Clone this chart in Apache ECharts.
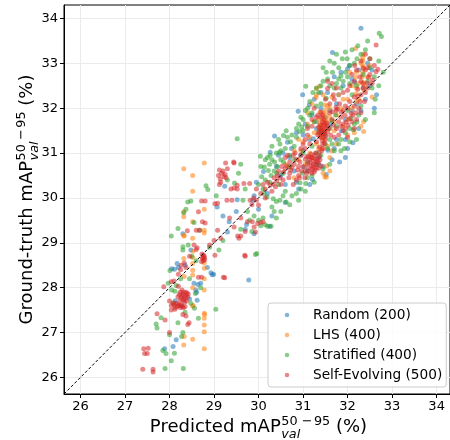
<!DOCTYPE html>
<html>
<head>
<meta charset="utf-8">
<script src="https://cdn.jsdelivr.net/npm/echarts@6/dist/echarts.min.js"></script>
<style>
html,body{margin:0;padding:0;background:#fff;}
#chart{width:450px;height:440px;}
</style>
</head>
<body>
<div id="chart"></div>
<script>
const seriesNames = ['Random (200)', 'LHS (400)', 'Stratified (400)', 'Self-Evolving (500)'];
const xTicks = [26, 27, 28, 29, 30, 31, 32, 33, 34];
const yTicks = [26, 27, 28, 29, 30, 31, 32, 33, 34];
const axisRange = [25.63, 34.3];

const randomPts = [
[29.24,30.26],[29.07,29.8],[29.34,29.47],[29.73,29.41],[29.52,29.96],[28.17,28.54],[28.11,28.41],[28.2,28.45],[28.48,28.84],[28.93,28.33],[28.99,28.3],[28.7,28.1],[28.59,27.95],[28.61,27.9],[28.13,27.71],[29.78,28.17],[27.89,26.64],[28.08,26.69],[28.15,26.84],[29.9,30.05],[29.87,29.95],[29.3,29.24],[30.25,29.37],[29.7,29.3],[29.9,29.2],[28.05,28.42],[28.25,27.6],[28.55,28.1],[28.62,27.72],[28.64,28.07],[28.96,28.29],
[32.3,33.78],[31.66,33.24],[30.99,32.3],[30.89,31.93],[30.36,31.38],[30.65,31.24],[30.26,31.02],[31.23,31.32],[32.12,31.23],[31.82,30.8],[32.65,32.3],[32.3,31.95],[31.21,30.41],[31.52,30.52],[31.14,32.07],[32.04,32.95],[32.0,32.88],[32.16,32.58],[31.02,30.69],[31.56,31.06],[30.11,30.59],[31.86,31.5],[30.74,31.1],[31.35,31.45],[31.3,31.7],[31.6,31.95],[31.0,31.05],[30.8,30.6],[31.25,32.2],[31.9,32.5],[31.75,32.1],[32.6,32.0],[32.1,32.65],[30.5,30.5],[31.0,31.4],[31.45,30.7],[30.9,30.2],
[31.15,31.3],[31.3,31.55],[31.5,31.8],[31.62,31.65],[31.75,31.3],[31.95,31.75],[32.2,32.1],[32.4,32.2],[32.45,33.0],[31.85,32.8],[31.4,32.35],[31.2,31.85],[30.95,30.95],[30.7,30.9],[30.55,31.0],[30.4,30.7],[30.6,30.3],[31.35,30.9],[31.65,30.85],[32.0,31.1],[30.2,30.1],[30.0,29.75],[29.5,29.7],[29.2,29.6],[28.35,28.5],[28.45,27.75],[28.85,28.45],[28.3,29.2],[29.95,30.35],[31.1,30.6],[31.8,32.3],[32.1,31.95],[32.5,32.5],
[30.45,30.95],[30.85,31.45],[31.05,31.65],[31.4,32.0],[31.55,32.35],[31.7,32.7],[32.25,32.85],[32.55,32.85],[32.25,31.55],[31.95,31.3],[31.7,31.1],[31.35,30.75],[30.85,30.35],[30.6,29.9],[30.3,29.6],[31.15,30.3],[31.95,30.9],[32.35,32.45]
];

const lhsPts = [
[28.32,30.65],[28.78,30.78],[28.52,30.5],[28.52,30.15],[28.32,29.69],[28.32,29.58],[28.52,29.47],[28.78,29.28],[28.78,29.22],[28.32,29.15],[28.78,28.43],[28.52,28.67],[28.52,28.54],[28.52,28.39],[28.52,28.28],[28.78,28.2],[28.78,27.95],[28.52,27.59],[28.78,27.43],[28.78,27.32],[28.78,27.17],[28.78,27.02],[28.33,26.91],[28.52,26.85],[28.32,26.72],[28.78,26.64],[28.53,28.81],[28.53,27.6],[28.79,27.4],[28.33,29.16],
[28.52,28.0],[28.78,28.55],[28.33,28.25],[28.52,29.1],[28.78,29.75],[28.32,28.65],
[32.18,33.33],[32.34,33.13],[32.34,33.06],[32.34,32.95],[32.34,32.8],[32.19,32.69],[32.34,32.58],[32.38,32.5],[32.19,32.32],[31.3,32.44],[31.37,32.49],[31.29,32.24],[31.49,32.07],[31.38,31.91],[32.36,31.7],[32.36,31.48],[31.53,30.71],[31.49,30.47],[31.52,30.46],[31.38,31.54],[31.42,31.6],[31.45,31.7],[31.48,31.45],[31.4,31.35],[31.5,31.62],[31.35,31.75],[31.43,31.1],[31.3,31.2],[31.2,30.9],[31.6,31.8],[31.5,31.95],[31.7,31.5],[32.1,32.0],[32.2,32.15],[31.1,31.9],[30.9,31.3],[30.7,30.7],[31.6,30.9],[32.05,32.8],[31.9,32.2],
[31.42,31.48],[31.46,31.56],[31.38,31.65],[31.44,31.8],[31.5,31.75],[31.41,31.4],[31.47,31.3],[31.55,31.7],[31.36,31.6],[31.52,31.85],
[32.33,32.7],[32.36,32.88],[32.3,33.0],[32.35,33.2],[32.25,32.55],[32.37,32.4],[32.2,32.45],
[31.6,32.0],[31.8,32.3],[31.9,31.6],[32.0,31.75],[31.75,31.85],[31.2,32.1],[31.3,32.3],[31.1,31.65],[31.0,31.25],[31.25,31.45],[31.35,31.1],[31.15,31.0],[31.55,31.15],[31.6,30.6],[31.45,30.55],[30.9,30.85],[31.05,30.75],[30.8,31.05],[32.15,31.45],[32.25,32.2],[32.55,32.25],
[31.33,31.45],[31.5,31.5],[31.45,31.9],[31.55,32.05],[31.65,32.25],[31.45,32.3],[31.25,31.7],[31.15,31.35],[30.95,31.05],[31.7,31.7],[31.85,32.0],[32.0,32.2],[32.1,32.5],[32.2,32.8],[32.45,32.7],[32.5,32.95],[32.3,31.6],[32.0,31.4],[31.75,31.2],[31.65,31.05],[30.8,30.45],[30.6,30.75]
];

const stratifiedPts = [
[27.7,27.19],[27.72,27.1],[27.81,27.33],[27.92,26.53],[28.04,26.37],[27.9,26.2],[28.31,26.2],[28.11,26.54],[28.3,27.0],[28.27,26.91],[28.19,27.22],[28.65,27.32],[28.56,27.54],[28.48,27.65],[29.04,27.52],[28.58,27.87],[28.01,28.38],[28.3,28.91],[28.3,28.84],[29.11,28.84],[29.96,28.76],[29.93,28.74],[28.04,29.15],[28.19,29.32],[28.68,29.28],[28.32,29.67],[28.37,29.75],[28.41,29.91],[28.48,29.93],[28.82,30.27],[28.86,30.19],[29.46,30.33],[27.97,28.1],[28.05,27.95],[28.12,27.92],[28.55,29.45],[28.6,28.6],[28.7,28.0],[28.5,28.7],[28.42,28.95],[28.09,27.66],
[29.9,29.6],[29.8,29.5],[30.1,29.55],[29.6,29.3],[29.2,29.05],[28.9,28.9],[28.25,28.2],[28.15,28.05],[28.45,28.2],[28.35,27.45],[28.0,26.95],[27.85,26.6],
[29.05,30.05],[29.3,30.4],[29.55,30.55],[29.6,30.75],
[29.52,31.32],[30.04,30.93],[30.26,30.95],[30.47,31.01],[30.13,30.69],[30.22,30.61],[30.07,30.47],[30.15,30.4],[30.36,30.8],[30.56,30.8],[30.69,30.7],[30.41,30.55],[30.99,30.55],[30.93,30.34],[31.06,30.32],[30.48,29.95],[30.62,29.91],[30.12,30.1],[30.19,30.02],[29.7,30.2],[29.65,29.95],[29.75,29.7],[30.0,29.5],[30.05,29.38],[30.2,29.37],[30.28,29.37],[30.35,29.7],[30.3,29.8],[30.4,29.92],[30.45,30.3],[30.28,30.5],[30.2,30.9],[30.33,29.98],
[30.25,30.75],[30.35,30.6],[30.5,30.85],[30.42,30.7],[30.55,30.55],[30.7,30.95],[30.8,30.85],[30.6,31.1],[30.72,31.25],[30.85,31.35],[31.0,31.5],[31.1,31.6],[31.25,31.7],[31.2,31.9],[31.3,32.05],[31.4,32.1],[31.1,32.0],[31.0,31.75],[30.9,31.65],[30.45,31.3],[30.3,31.15],[30.15,30.85],[30.05,30.7],[30.0,30.3],[30.1,30.2],[30.25,30.35],
[30.62,31.5],[30.56,31.39],[30.48,31.2],[30.97,31.58],[30.92,31.48],[31.15,31.84],[31.06,32.49],[31.22,32.35],[31.35,32.35],[31.52,32.22],[31.52,32.8],[31.66,32.8],[31.8,32.65],[31.85,32.72],[31.9,32.6],[31.88,33.1],[31.99,33.1],[32.21,33.1],[32.23,33.39],[32.71,33.67],[32.76,33.6],[31.93,31.1],[32.08,31.77],[32.21,31.69],[32.3,32.05],[31.65,31.72],[31.73,31.85],[32.13,31.52],[31.3,31.0],[31.5,31.2],[31.6,31.3],[31.2,31.15],[31.0,31.0],[30.8,31.15],[31.7,32.45],[32.05,32.55],[32.1,32.3],[32.35,32.75],[32.62,32.2],[32.5,32.9],[31.4,31.5],[31.1,30.8],[32.0,31.95],[31.75,31.6],[31.85,31.3],
[31.6,32.5],[31.75,32.55],[31.85,32.45],[31.95,32.8],[32.05,32.95],[32.15,33.0],[32.3,33.2],[32.4,33.3],[31.7,33.0],[31.55,32.65],[31.45,32.6],[31.8,32.9],[32.0,32.7],[32.2,32.5],[32.45,32.6],[32.55,32.45],[32.6,32.7],
[31.5,31.4],[31.6,31.55],[31.55,31.1],[31.65,31.2],[31.8,31.2],[31.95,31.45],[32.05,31.55],[32.15,31.65],[32.25,31.85],[31.7,31.05],[31.4,30.95],[31.3,30.75],[31.2,30.5],[31.1,30.45],[30.95,30.2],[30.85,30.1],[30.75,30.05],[30.6,30.15],[30.55,30.05],
[30.3,30.85],[30.4,31.0],[30.5,31.05],[30.65,31.35],[30.75,31.4],[30.85,31.55],[30.95,31.8],[31.05,31.95],[31.15,32.15],[31.3,32.45],[31.4,32.5],[31.45,32.9],[31.6,33.05],[31.75,33.2],[31.95,33.25],[32.1,33.3],[32.5,33.1],[32.45,33.5],[32.7,33.05],[32.8,32.8],[32.7,32.5],[32.6,31.9],[32.4,31.75],[32.2,31.3],[32.05,31.25],[31.85,31.05],[31.6,30.75],[31.45,30.65],[31.25,30.35],[31.05,30.15],[30.9,29.95],[30.7,29.85],[30.5,29.7],[30.4,29.55],[30.15,29.4],[29.85,29.25]
];

const selfEvoPts = [
[27.42,26.64],[27.52,26.65],[27.44,26.53],[27.5,26.53],[27.4,26.18],[27.63,26.18],[27.63,26.12],[27.72,27.42],[28.0,27.0],[27.9,27.28],[28.04,27.5],[28.0,27.7],
[28.22,27.85],[28.3,27.85],[28.37,27.82],[28.26,27.78],[28.33,27.75],[28.41,27.79],[28.3,27.72],[28.24,27.9],[28.19,27.8],[28.36,27.9],[28.28,27.95],[28.42,27.86],[28.34,27.68],
[28.28,27.82],[28.35,27.78],[28.24,27.72],[28.39,27.88],[28.31,27.9],[28.21,27.6],[28.15,27.65],[28.29,27.58],[28.12,27.52],[28.38,27.7],
[28.1,27.62],[28.17,27.58],[28.24,27.56],[28.31,27.55],[28.13,27.56],[28.2,27.63],[28.04,27.6],[28.27,27.62],[28.35,27.58],[28.08,27.66],
[28.3,27.4],[28.37,27.37],[28.41,27.18],[28.44,27.22],
[28.04,28.13],[28.1,28.15],[27.87,28.02],[28.2,28.03],[28.65,28.23],[28.72,28.23],[29.21,28.23],[29.24,28.22],
[28.26,28.5],[28.25,28.4],[28.33,28.55],[28.37,28.45],[28.6,28.85],[28.62,28.89],
[28.74,28.65],[28.78,28.7],[28.76,28.6],[28.73,28.75],[28.79,28.62],[28.75,28.68],[28.78,28.66],[28.72,28.58],[28.76,28.72],
[29.02,28.72],[29.69,28.72],[29.7,28.7],
[28.4,29.27],[28.6,29.28],[28.67,29.28],[28.74,29.47],[28.8,29.44],[29.08,29.28],[29.56,29.1],[29.6,29.15],[29.75,29.47],[29.86,29.47],[29.93,29.24],[30.1,29.47],[29.53,29.15],[29.7,29.25],[29.9,29.35],[29.98,29.43],[30.05,29.45],
[29.95,29.95],[30.05,30.1],[30.15,30.2],[29.85,29.85],[29.6,29.55],[29.45,29.35],[29.35,29.55],[29.15,29.1],[29.0,29.05],[28.9,28.95],[28.55,28.95],[28.45,28.7],[28.2,28.3],
[28.65,29.69],[28.72,29.93],[28.8,29.93],[29.02,29.87],[29.08,29.88],[29.29,29.95],[29.4,29.95],[30.0,29.84],[29.89,30.0],[29.81,29.95],
[29.12,30.3],[29.52,30.28],[29.67,30.32],[29.8,30.32],[29.52,30.2],[29.45,30.22],[29.38,30.2],
[29.1,30.5],[29.17,30.55],[29.22,30.48],[29.14,30.42],[29.27,30.45],[29.2,30.6],[29.15,30.35],[29.25,30.52],[29.3,30.65],[29.12,30.62],
[29.26,30.78],[29.45,30.78],[29.44,30.8],
[30.56,30.58],[30.48,30.45],[30.41,30.38],[30.33,30.31],[30.26,30.28],[30.78,30.95],[30.85,30.86],[30.93,30.8],[30.7,30.8],[30.63,30.72],
[30.85,30.4],[30.78,30.3],[30.97,30.6],[31.04,30.45],
[30.6,30.65],[30.7,30.55],[30.75,30.68],[30.9,30.7],[30.95,30.95],[30.82,31.0],[30.65,30.95],[30.55,30.4],[30.42,30.5],[30.38,30.25],[30.5,30.3],[30.3,30.15],[30.6,30.9],[31.0,31.2],[30.95,31.1],[31.05,31.3],[30.9,30.5],
[30.35,30.45],[30.45,30.6],[30.52,30.7],[30.68,30.45],[30.72,30.62],[30.88,30.62],[30.8,30.75],[31.0,30.7],[30.92,30.45],[31.05,30.6],[30.2,30.35],[30.1,30.3],[29.95,30.2],[30.15,30.0],
[31.12,30.93],[31.21,30.9],[31.27,30.86],[31.16,30.79],[31.23,30.75],[31.34,30.79],[31.12,30.67],[31.21,30.64],[31.3,30.67],[31.08,30.55],[31.37,30.93],[31.05,30.86],[31.18,30.98],[31.28,31.0],[31.4,30.72],[31.25,30.58],
[31.15,30.85],[31.19,30.72],[31.24,30.82],[31.29,30.74],[31.32,30.88],[31.14,30.6],[31.2,30.55],[31.26,30.95],[31.35,30.66],[31.1,30.76],[31.17,30.9],[31.31,30.81],[31.22,30.68],[31.38,30.85],[31.08,30.92],[31.27,30.63],
[31.43,31.7],[31.46,31.62],[31.41,31.51],[31.48,31.43],[31.38,31.36],[31.5,31.3],[31.44,31.2],[31.52,31.56],[31.35,31.57],[31.53,31.67],[31.4,31.45],[31.45,31.35],[31.3,31.25],[31.37,31.13],[31.45,31.1],[31.55,31.48],
[31.42,31.55],[31.47,31.5],[31.39,31.62],[31.49,31.66],[31.44,31.42],[31.36,31.48],[31.51,31.38],[31.43,31.28],[31.47,31.75],[31.4,31.8],[31.55,31.6],[31.33,31.4],[31.48,31.22],[31.58,31.55],[31.42,31.05],[31.36,31.02],
[31.4,31.91],[31.44,31.85],[31.33,31.84],
[31.62,31.4],[31.7,31.35],[31.75,31.55],[31.8,31.7],[31.68,31.62],[31.9,31.65],[31.85,31.8],[31.6,32.1],[31.5,32.2],[31.7,32.2],[31.82,32.1],[31.95,32.05],[32.05,32.15],[32.15,32.05],[32.25,32.0],
[31.6,31.9],[31.65,31.75],[31.75,31.95],[31.9,31.95],[32.0,32.0],[31.85,31.6],[31.95,31.55],[32.1,31.7],[32.2,31.75],[32.3,31.9],[32.15,32.25],[32.28,32.15],[32.4,32.35],[32.45,32.45],[32.35,32.55],
[31.74,32.02],[31.66,31.92],[31.77,31.98],[31.86,31.91],[31.94,31.84],
[32.12,31.84],[32.04,31.77],[31.97,31.69],[32.01,31.62],[32.08,31.88],[32.19,31.9],
[32.23,32.42],[32.3,32.3],[32.38,32.15],[32.23,32.27],
[32.4,32.85],[32.47,32.69],[32.44,32.56],[32.56,32.63],[32.64,32.81],[32.68,32.87],
[32.3,32.6],[32.35,32.45],[32.28,32.7],[32.5,32.75],[32.55,32.55],[32.45,32.9],[32.6,32.95],[32.35,32.9],[32.2,32.85],[32.1,32.75],
[32.16,32.95],[32.64,33.41],[32.4,33.2],[32.5,33.1],[32.3,33.05],
[31.55,32.44],[31.68,32.3],[32.0,32.4],[31.2,31.6],[31.1,31.4],
[31.55,32.6],[31.65,32.55],[31.75,32.45],[31.9,32.35],[32.05,32.5],[32.15,32.6],[31.25,32.0],[31.3,31.8],[31.2,31.75],[31.1,31.55],[31.05,31.1],[31.15,31.2],
[31.9,31.5],[32.0,31.35],[31.8,31.4],[32.15,31.55]
];

const diagLine = [[axisRange[0], axisRange[0]], [axisRange[1], axisRange[1]]];
const colors = ['#1f77b4', '#ff7f0e', '#2ca02c', '#d62728'];
const allData = [randomPts, lhsPts, stratifiedPts, selfEvoPts];

const FONT = '"DejaVu Sans", "Noto Sans", sans-serif';
const measureCtx = document.createElement('canvas').getContext('2d');
function textW(t, size, italic) {
  measureCtx.font = (italic ? 'italic ' : '') + size + 'px ' + FONT;
  return measureCtx.measureText(t).width;
}
function buildLabel(prefix) {
  const M = 18, S = 12.8;
  const kids = [];
  let x = 0;
  const t1 = prefix + 'mAP';
  kids.push({type:'text', x:x, y:0, style:{text:t1, fontSize:M, fontFamily:FONT, fill:'#000', align:'left', verticalAlign:'middle'}});
  x += textW(t1, M);
  x += 0.5;
  kids.push({type:'text', x:x, y:-6, style:{text:'50', fontSize:S, fontFamily:FONT, fill:'#000', align:'left', verticalAlign:'middle'}});
  kids.push({type:'text', x:x, y:7, style:{text:'val', fontSize:S, fontStyle:'italic', fontFamily:FONT, fill:'#000', align:'left', verticalAlign:'middle'}});
  x += Math.max(textW('50', S), textW('val', S, true)) + 1.5;
  kids.push({type:'text', x:x, y:-6, style:{text:'\u2212', fontSize:S, fontFamily:FONT, fill:'#000', align:'left', verticalAlign:'middle'}});
  x += textW('\u2212', S) + 1.5;
  kids.push({type:'text', x:x, y:-6, style:{text:'95', fontSize:S, fontFamily:FONT, fill:'#000', align:'left', verticalAlign:'middle'}});
  x += textW('95', S);
  kids.push({type:'text', x:x, y:0, style:{text:' (%)', fontSize:M, fontFamily:FONT, fill:'#000', align:'left', verticalAlign:'middle'}});
  x += textW(' (%)', M);
  return {kids: kids, width: x};
}

const chart = echarts.init(document.getElementById('chart'), null, {renderer:'canvas'});
const gridL = 64, gridT = 5, gridW = 390, gridH = 389;
const xLab = buildLabel('Predicted ');
const yLab = buildLabel('Ground-truth ');
const cx = gridL + gridW / 2 - 0.5;
const cy = gridT + gridH / 2;

// legend icon: small dot inside a 40x10 box (corner points fix the box)
const legendIcon = 'path://M0,0L0.01,0ZM40,10L39.99,10ZM16.7,5A2.3,2.3,0,1,1,21.3,5A2.3,2.3,0,1,1,16.7,5Z';

const series = allData.map((d, i) => ({
  name: seriesNames[i],
  type: 'scatter',
  data: d,
  symbol: 'circle',
  symbolSize: 5,
  itemStyle: {color: colors[i], opacity: 0.55},
  emphasis: {disabled: true},
  z: 2 + i
}));
series.push({
  name: 'diag',
  type: 'line',
  data: diagLine,
  symbol: 'none',
  lineStyle: {color: '#000', width: 1, type: [3, 2]},
  z: 10,
  silent: true
});

chart.setOption({
  animation: false,
  backgroundColor: '#fff',
  grid: {left: gridL, top: gridT, width: gridW, height: gridH, show: true, borderColor: '#000', borderWidth: 1, backgroundColor: 'transparent'},
  xAxis: {
    type: 'value', min: axisRange[0], max: axisRange[1],
    axisLine: {show: true, onZero: false, lineStyle: {color: '#000', width: 1}},
    axisTick: {show: true, customValues: xTicks, length: 4, lineStyle: {color: '#000', width: 1}},
    axisLabel: {customValues: xTicks, margin: 6, fontSize: 13, fontFamily: FONT, color: '#000'},
    splitLine: {show: true, customValues: xTicks, lineStyle: {color: '#ebebeb', width: 1}}
  },
  yAxis: {
    type: 'value', min: axisRange[0], max: axisRange[1],
    axisLine: {show: true, onZero: false, lineStyle: {color: '#000', width: 1}},
    axisTick: {show: true, customValues: yTicks, length: 4, lineStyle: {color: '#000', width: 1}},
    axisLabel: {customValues: yTicks, margin: 6, fontSize: 13, fontFamily: FONT, color: '#000'},
    splitLine: {show: true, customValues: yTicks, lineStyle: {color: '#ebebeb', width: 1}}
  },
  legend: {
    data: seriesNames.map(n => ({name: n, icon: legendIcon})),
    orient: 'vertical',
    left: 268, top: 303,
    padding: [4, 4, 4, 0],
    itemWidth: 40, itemHeight: 10,
    itemGap: 4,
    symbolKeepAspect: false,
    backgroundColor: 'rgba(255,255,255,0.85)',
    borderColor: '#cccccc', borderWidth: 1, borderRadius: 3,
    textStyle: {fontSize: 13.7, fontFamily: FONT, color: '#000', lineHeight: 16},
    selectedMode: false
  },
  graphic: [
    {type: 'group', x: cx - xLab.width / 2, y: 427.5, children: xLab.kids, silent: true},
    {type: 'group', x: 27.5, y: cy + yLab.width / 2, rotation: Math.PI / 2, children: yLab.kids, silent: true}
  ],
  series: series
});
</script>
</body>
</html>
